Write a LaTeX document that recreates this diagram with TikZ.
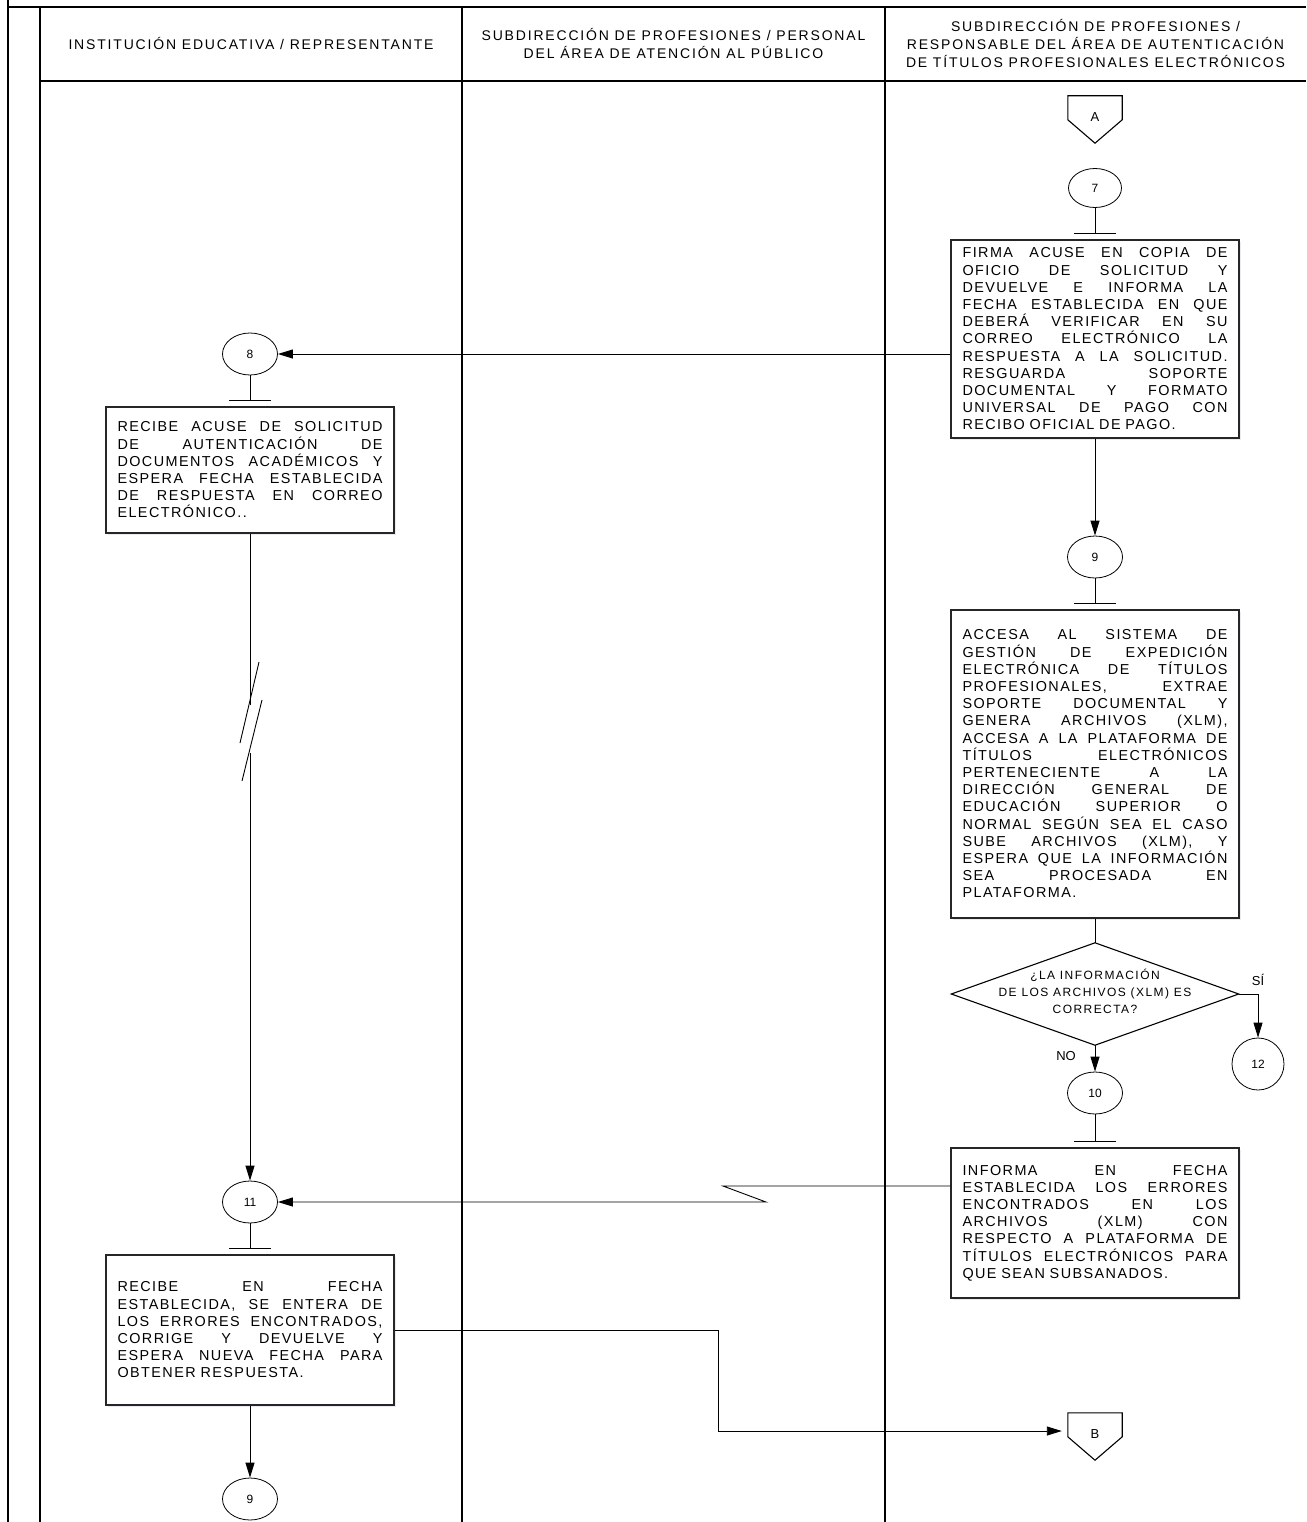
\documentclass[tikz,border=0pt]{standalone}
\usepackage{fontspec}
\setmainfont{Liberation Sans}
\newfontfamily\bodyfont[LetterSpace=10]{Liberation Sans}
\newfontfamily\headfont[LetterSpace=13]{Liberation Sans}
\newfontfamily\decfont[LetterSpace=12]{Liberation Sans}
\usetikzlibrary{arrows.meta,calc,shapes.geometric,shadows}
\newlength\tw \setlength\tw{265pt}
\newcommand\jline[1]{\noindent\makebox[\tw][s]{\spaceskip=0.3em plus 1fil\relax #1}\\}
\begin{document}
\begin{tikzpicture}[x=1pt,y=-1pt,
  lane/.style={line width=2pt,black},
  proc/.style={draw=black!85,line width=1.1pt,fill=white,minimum width=288pt,text width=265pt,align=left,inner sep=0pt,font=\bodyfont\fontsize{14.4}{17.2}\selectfont,
    drop shadow={shadow xshift=2pt,shadow yshift=-2pt,fill=blue!20!gray!40,opacity=0.35}},
  conn/.style={draw,ellipse,line width=0.8pt,minimum width=55pt,minimum height=42pt,inner sep=0pt,font=\fontsize{12}{14}\selectfont},
  offpage/.style={minimum width=54pt,minimum height=47pt,inner sep=0pt,font=\fontsize{13}{15}\selectfont},
  head/.style={align=center,inner sep=0pt,font=\headfont\fontsize{14}{18}\selectfont},
  lbl/.style={inner sep=0pt,font=\fontsize{13}{15}\selectfont},
  ln/.style={line width=0.9pt},
  arr/.style={line width=0.9pt,-{Triangle[length=15pt,width=9pt]}}]
\useasboundingbox (0,0) rectangle (1306,1522);
% swimlanes
\draw[lane] (7.5,0) -- (7.5,1522);
\draw[lane] (7.5,7.5) -- (1306,7.5);
\draw[lane] (40,7.5) -- (40,1522);
\draw[lane] (462,7.5) -- (462,1522);
\draw[lane] (885,7.5) -- (885,1522);
\draw[lane] (40,81) -- (1306,81);
\node[head] (h1) at (251,44) {INSTITUCIÓN EDUCATIVA / REPRESENTANTE};
\node[head] (h2) at (673.5,44) {SUBDIRECCIÓN DE PROFESIONES / PERSONAL\\DEL ÁREA DE ATENCIÓN AL PÚBLICO};
\node[head] (h3) at (1095.5,44) {SUBDIRECCIÓN DE PROFESIONES /\\RESPONSABLE DEL ÁREA DE AUTENTICACIÓN\\DE TÍTULOS PROFESIONALES ELECTRÓNICOS};
% off-page connector A
\node[offpage] (A) at (1095,119.5) {\raisebox{5pt}{A}};
\draw[line width=1.1pt] (A.north west) -- (A.north east) -- ($(A.north east)+(0,24)$) -- (A.south) -- ($(A.north west)+(0,24)$) -- cycle;
% right column
\node[conn,minimum width=53pt,minimum height=39pt] (c7) at (1095,188) {7};
\node[proc,minimum height=198pt] (b7) at (1095,339) {%
\jline{FIRMA ACUSE EN COPIA DE}
\jline{OFICIO DE SOLICITUD Y}
\jline{DEVUELVE E INFORMA LA}
\jline{FECHA ESTABLECIDA EN QUE}
\jline{DEBERÁ VERIFICAR EN SU}
\jline{CORREO ELECTRÓNICO LA}
\jline{RESPUESTA A LA SOLICITUD.}
\jline{RESGUARDA SOPORTE}
\jline{DOCUMENTAL Y FORMATO}
\jline{UNIVERSAL DE PAGO CON}
RECIBO OFICIAL DE PAGO.};
\draw[ln] (c7.south) -- ($(b7.north)+(0,-6)$) coordinate (t7) ($(t7)+(-21,0)$) -- ($(t7)+(21,0)$);
\node[conn] (c9) at (1095,557) {9};
\node[proc,minimum height=308pt] (b9) at (1095,764) {%
\jline{ACCESA AL SISTEMA DE}
\jline{GESTIÓN DE EXPEDICIÓN}
\jline{ELECTRÓNICA DE TÍTULOS}
\jline{PROFESIONALES, EXTRAE}
\jline{SOPORTE DOCUMENTAL Y}
\jline{GENERA ARCHIVOS (XLM),}
\jline{ACCESA A LA PLATAFORMA DE}
\jline{TÍTULOS ELECTRÓNICOS}
\jline{PERTENECIENTE A LA}
\jline{DIRECCIÓN GENERAL DE}
\jline{EDUCACIÓN SUPERIOR O}
\jline{NORMAL SEGÚN SEA EL CASO}
\jline{SUBE ARCHIVOS (XLM), Y}
\jline{ESPERA QUE LA INFORMACIÓN}
\jline{SEA PROCESADA EN}
PLATAFORMA.};
\draw[ln] (c9.south) -- ($(b9.north)+(0,-6)$) coordinate (t9) ($(t9)+(-21,0)$) -- ($(t9)+(21,0)$);
% decision
\node[minimum width=287pt,minimum height=102pt,inner sep=0pt] (d) at (1095,994) {};
\draw[line width=1.1pt] (d.north) -- (d.east) -- (d.south) -- (d.west) -- cycle;
\node[align=center,inner sep=0pt,font=\decfont\fontsize{12}{17}\selectfont] (dt) at (1095,991) {¿LA INFORMACIÓN\\DE LOS ARCHIVOS (XLM) ES\\CORRECTA?};
\node[conn,minimum width=52pt,minimum height=52pt] (c12) at (1258,1064) {12};
\node[conn] (c10) at (1095,1093) {10};
\node[proc,minimum height=150pt] (b10) at (1095,1223) {%
\jline{INFORMA EN FECHA}
\jline{ESTABLECIDA LOS ERRORES}
\jline{ENCONTRADOS EN LOS}
\jline{ARCHIVOS (XLM) CON}
\jline{RESPECTO A PLATAFORMA DE}
\jline{TÍTULOS ELECTRÓNICOS PARA}
QUE SEAN SUBSANADOS.};
\draw[ln] (c10.south) -- ($(b10.north)+(0,-6)$) coordinate (t10) ($(t10)+(-21,0)$) -- ($(t10)+(21,0)$);
\node[offpage] (B) at (1095,1436.5) {\raisebox{5pt}{B}};
\draw[line width=1.1pt] (B.north west) -- (B.north east) -- ($(B.north east)+(0,24)$) -- (B.south) -- ($(B.north west)+(0,24)$) -- cycle;
% left column
\node[conn] (c8) at (250,354) {8};
\node[proc,minimum height=126pt] (b8) at (250,470) {%
\jline{RECIBE ACUSE DE SOLICITUD}
\jline{DE AUTENTICACIÓN DE}
\jline{DOCUMENTOS ACADÉMICOS Y}
\jline{ESPERA FECHA ESTABLECIDA}
\jline{DE RESPUESTA EN CORREO}
ELECTRÓNICO..};
\draw[ln] (c8.south) -- ($(b8.north)+(0,-6)$) coordinate (t8) ($(t8)+(-21,0)$) -- ($(t8)+(21,0)$);
\node[conn] (c11) at (250,1202) {11};
\node[proc,minimum height=150pt] (b11) at (250,1330) {%
\jline{RECIBE EN FECHA}
\jline{ESTABLECIDA, SE ENTERA DE}
\jline{LOS ERRORES ENCONTRADOS,}
\jline{CORRIGE Y DEVUELVE Y}
\jline{ESPERA NUEVA FECHA PARA}
OBTENER RESPUESTA.};
\draw[ln] (c11.south) -- ($(b11.north)+(0,-6)$) coordinate (t11) ($(t11)+(-21,0)$) -- ($(t11)+(21,0)$);
\node[conn] (c9b) at (250,1499) {9};
% connectors
\draw[arr] (b7.west |- c8) -- (c8.east);
\draw[arr] (b7.south) -- (c9.north);
\draw[ln] (b9.south) -- (d.north);
\draw[arr] (d.east) -- (d.east -| c12) -- (c12.north);
\node[lbl] (si) at (1258,980) {SÍ};
\draw[arr] (d.south) -- (c10.north);
\node[lbl] (no) at (1066,1056) {NO};
\coordinate (z1) at (723,1186);
\coordinate (z2) at (766,1202);
\draw[arr] (b10.west |- z1) -- (z1) -- (z2) -- (c11.east);
\coordinate (k1) at (250,705);
\coordinate (k2) at (250,753);
\draw[ln] (b8.south) -- (k1);
\draw[ln] (259,662) -- (240,743);
\draw[ln] (262,700) -- (242,781);
\draw[arr] (k2) -- (c11.north);
\draw[arr] (b11.south) -- (c9b.north);
\coordinate (m1) at (718,1330);
\coordinate (m2) at (718,1431);
\draw[arr,shorten >=6pt] (b11.east) -- (m1) -- (m2) -- (B.west |- m2);
\end{tikzpicture}
\end{document}
